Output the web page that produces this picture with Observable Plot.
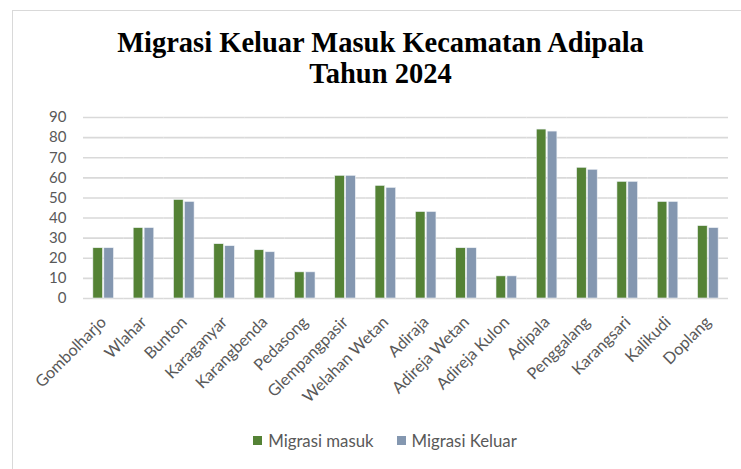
<!DOCTYPE html>
<html><head><meta charset="utf-8">
<script src="https://cdn.jsdelivr.net/npm/d3@7"></script>
<script src="https://cdn.jsdelivr.net/npm/@observablehq/plot@0.6"></script>
<style>
body{margin:0;background:#fff;overflow:hidden;}
#frame{position:absolute;left:12px;top:10px;width:800px;height:520px;border:1px solid #d9d9d9;}
#title{position:absolute;left:10px;top:27px;width:741px;text-align:center;font-family:"Liberation Serif","Times New Roman",serif;font-weight:bold;font-size:28.5px;line-height:31px;color:#000;}
#chart{position:absolute;left:0;top:100px;}
#legend{position:absolute;left:0;top:430px;width:770px;display:flex;justify-content:center;gap:23px;font-family:Lato,sans-serif;font-size:16.8px;color:#595959;}
#legend span.item{display:flex;align-items:center;gap:6px;}
#legend span.sw{display:inline-block;width:9px;height:9px;}
</style></head>
<body>
<div id="frame"></div>
<div id="title">Migrasi Keluar Masuk Kecamatan Adipala<br>Tahun 2024</div>
<div id="chart"></div>
<div id="legend"></div>
<script>
const categories = ["Gombolharjo","Wlahar","Bunton","Karaganyar","Karangbenda","Pedasong","Glempangpasir","Welahan Wetan","Adiraja","Adireja Wetan","Adireja Kulon","Adipala","Penggalang","Karangsari","Kalikudi","Doplang"];
const migrasiMasuk = [25,35,49,27,24,13,61,56,43,25,11,84,65,58,48,36];
const migrasiKeluar = [25,35,48,26,23,13,61,55,43,25,11,83,64,58,48,35];
const seriesNames = ["Migrasi masuk","Migrasi Keluar"];
const seriesColors = ["#548235","#8497B0"];
const yTicks = [0,10,20,30,40,50,60,70,80,90];

const data = categories.flatMap((c,i)=>[
  {category:c, series:seriesNames[0], value:migrasiMasuk[i]},
  {category:c, series:seriesNames[1], value:migrasiKeluar[i]}
]);

const chart = Plot.plot({
  width:741, height:308,
  marginTop:17, marginLeft:83, marginRight:13, marginBottom:110,
  style:{fontFamily:"Lato, sans-serif", fontSize:"15px", color:"#595959", background:"transparent"},
  fx:{domain:categories, padding:0, round:false, label:null, axis:null},
  x:{domain:seriesNames, paddingInner:0.12, paddingOuter:0.9, round:false, axis:null},
  y:{domain:[0,90], ticks:yTicks, label:null, tickSize:0, tickPadding:17},
  color:{domain:seriesNames, range:seriesColors},
  marks:[
    Plot.gridY(yTicks,{stroke:"#d9d9d9", strokeOpacity:1, strokeWidth:1.6}),
    Plot.barY(data,{fx:"category", x:"series", y:"value", fill:"series", stroke:"#eef2f6", strokeWidth:0.6}),
    Plot.axisFx({anchor:"bottom", tickRotate:-45, tickSize:0, tickPadding:21, fontSize:16.2, label:null, fill:"#595959"})
  ]
});
document.getElementById("chart").appendChild(chart);

const legend = document.getElementById("legend");
seriesNames.forEach((s,i)=>{
  const item = document.createElement("span"); item.className="item";
  const sw = document.createElement("span"); sw.className="sw"; sw.style.background=seriesColors[i];
  const t = document.createElement("span"); t.textContent=s;
  item.appendChild(sw); item.appendChild(t); legend.appendChild(item);
});
</script>
</body></html>
